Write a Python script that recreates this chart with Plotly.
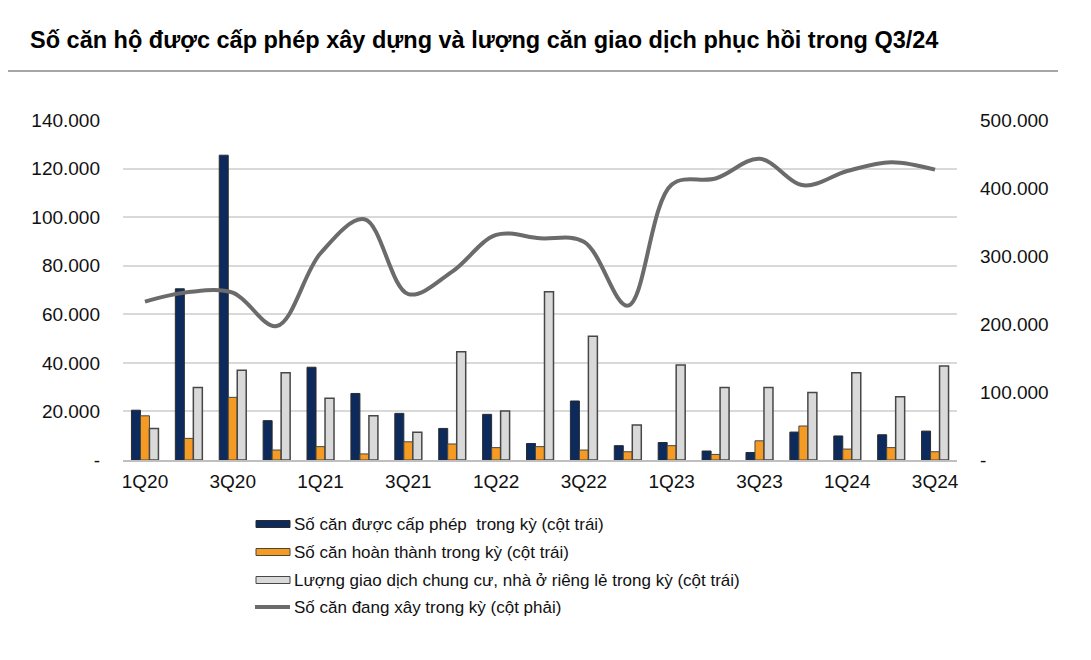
import plotly.graph_objects as go

quarters = ["1Q20", "2Q20", "3Q20", "4Q20", "1Q21", "2Q21", "3Q21", "4Q21",
            "1Q22", "2Q22", "3Q22", "4Q22", "1Q23", "2Q23", "3Q23", "4Q23",
            "1Q24", "2Q24", "3Q24"]
permitted = [20500, 70500, 125500, 16200, 38200, 27400, 19200, 13000,
             18800, 6800, 24300, 5900, 7200, 3700, 3100, 11500,
             9900, 10400, 11900]
completed = [18200, 8900, 25800, 4100, 5500, 2500, 7500, 6600,
             5100, 5500, 4100, 3400, 5900, 2300, 7900, 14000,
             4500, 5100, 3400]
transactions = [13000, 29900, 37000, 35900, 25400, 18200, 11400, 44600,
                20200, 69300, 51000, 14400, 39100, 29900, 29900, 27800,
                35900, 26000, 38700]
under_construction = [233000, 247000, 246000, 197000, 304000, 354000, 244000, 277000,
                      331000, 326000, 321000, 227000, 405000, 414000, 443000, 404000,
                      425000, 438000, 427000]

left_tickvals = [0, 20000, 40000, 60000, 80000, 100000, 120000, 140000]
left_ticktext = ["-", "20.000", "40.000", "60.000", "80.000", "100.000", "120.000", "140.000"]
right_tickvals = [0, 100000, 200000, 300000, 400000, 500000]
right_ticktext = ["-", "100.000", "200.000", "300.000", "400.000", "500.000"]
xtick_labels = quarters[::2]

title_text = "Số căn hộ được cấp phép xây dựng và lượng căn giao dịch phục hồi trong Q3/24"
legend_names = ["Số căn được cấp phép  trong kỳ (cột trái)",
                "Số căn hoàn thành trong kỳ (cột trái)",
                "Lượng giao dịch chung cư, nhà ở riêng lẻ trong kỳ (cột trái)",
                "Số căn đang xây trong kỳ (cột phải)"]

C_NAVY = "#0c2a5c"
C_ORANGE = "#f59a22"
C_LGRAY = "#d9d9d9"
C_LINE = "#6b6b6b"
C_EDGE = "#474747"
FONT = "Liberation Sans, Arial, sans-serif"

W, H = 1091, 660
L, R, T, B = 123, 957, 120, 460

fig = go.Figure()
fig.add_trace(go.Bar(x=quarters, y=permitted, name=legend_names[0],
                     marker=dict(color=C_NAVY, line=dict(color="#2b2b2b", width=1))))
fig.add_trace(go.Bar(x=quarters, y=completed, name=legend_names[1],
                     marker=dict(color=C_ORANGE, line=dict(color=C_EDGE, width=1))))
fig.add_trace(go.Bar(x=quarters, y=transactions, name=legend_names[2],
                     marker=dict(color=C_LGRAY, line=dict(color=C_EDGE, width=1.5))))
fig.add_trace(go.Scatter(x=quarters, y=under_construction, name=legend_names[3],
                         mode="lines", yaxis="y2",
                         line=dict(color=C_LINE, width=4, shape="spline", smoothing=1.0)))


def px_x(p):
    return (p - L) / (R - L)


def px_y(p):
    return (B - p) / (B - T)


shapes = []
annotations = []
# title separator line
shapes.append(dict(type="line", xref="paper", yref="paper",
                   x0=px_x(8), x1=px_x(1058), y0=px_y(71), y1=px_y(71),
                   line=dict(color="#a6a6a6", width=2)))

# custom legend
rows = [524, 552, 580, 607]
fills = [C_NAVY, C_ORANGE, C_LGRAY]
for i, yc in enumerate(rows):
    if i < 3:
        shapes.append(dict(type="rect", xref="paper", yref="paper",
                           x0=px_x(256), x1=px_x(290), y0=px_y(yc - 3.5), y1=px_y(yc + 3.5),
                           fillcolor=fills[i], line=dict(color=C_EDGE if i else "#2b2b2b", width=1)))
    else:
        shapes.append(dict(type="line", xref="paper", yref="paper",
                           x0=px_x(255), x1=px_x(290), y0=px_y(yc), y1=px_y(yc),
                           line=dict(color=C_LINE, width=4)))
    annotations.append(dict(text=legend_names[i], xref="paper", yref="paper",
                            x=px_x(292), y=px_y(yc), xanchor="left", yanchor="middle",
                            showarrow=False, font=dict(size=17, color="#111111", family=FONT)))

fig.update_layout(
    width=W, height=H,
    margin=dict(l=L, r=W - R, t=T, b=H - B, pad=0),
    paper_bgcolor="white", plot_bgcolor="white",
    font=dict(family=FONT, size=19, color="#111111"),
    title=dict(text=title_text, x=30 / W, y=1 - 40 / H, xref="container", yref="container",
               xanchor="left", yanchor="middle",
               font=dict(family=FONT, size=23.5, color="#000000", weight="bold")),
    barmode="group", bargap=0.385, bargroupgap=0.0,
    showlegend=False,
    xaxis=dict(type="category", tickmode="array", tickvals=xtick_labels, ticktext=xtick_labels,
               showgrid=False, showline=True, linecolor="#bfbfbf", linewidth=1.5,
               ticks="", ticklabelstandoff=3, tickfont=dict(size=19)),
    yaxis=dict(range=[0, 140000], tickmode="array", tickvals=left_tickvals, ticktext=left_ticktext,
               showgrid=True, gridcolor="#d9d9d9", gridwidth=1.5, zeroline=False,
               showline=False, ticks="", ticklabelstandoff=22, tickfont=dict(size=19)),
    yaxis2=dict(range=[0, 500000], overlaying="y", side="right", tickmode="array",
                tickvals=right_tickvals, ticktext=right_ticktext, showgrid=False,
                zeroline=False, showline=False, ticks="", ticklabelstandoff=22,
                tickfont=dict(size=19)),
    shapes=shapes, annotations=annotations,
)

fig.write_html("out.html", config={"displayModeBar": False},
               post_script="document.body.style.margin='0';")
